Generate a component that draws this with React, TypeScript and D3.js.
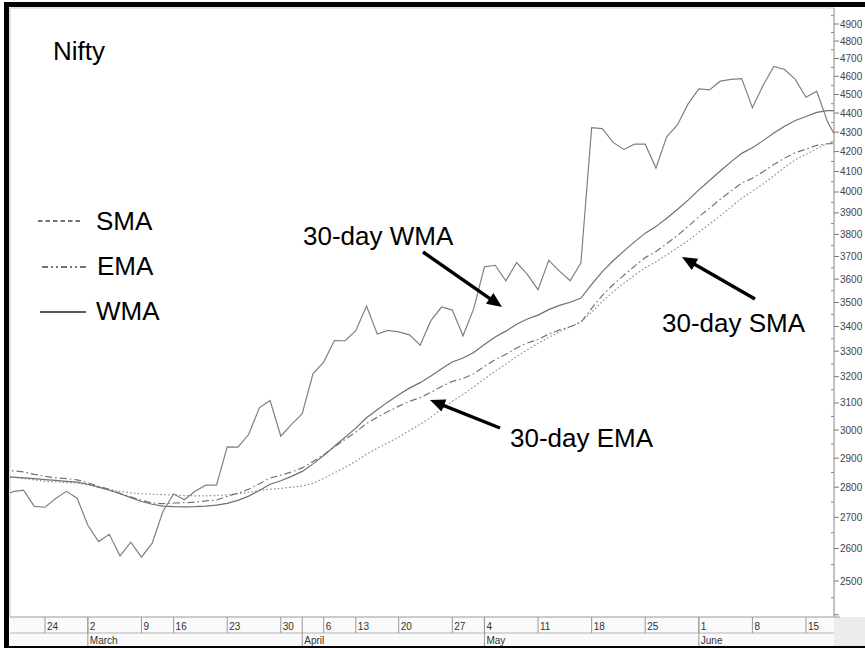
import React from 'react';
import * as d3 from 'd3';

// Trading days shown on the chart (Nifty, Feb–Jun 2009)
const dates = [
  '2009-02-17','2009-02-18','2009-02-19','2009-02-20','2009-02-24','2009-02-25','2009-02-26','2009-02-27',
  '2009-03-02','2009-03-03','2009-03-04','2009-03-05','2009-03-06','2009-03-09','2009-03-12','2009-03-13',
  '2009-03-16','2009-03-17','2009-03-18','2009-03-19','2009-03-20','2009-03-23','2009-03-24','2009-03-25',
  '2009-03-26','2009-03-27','2009-03-30','2009-03-31','2009-04-01','2009-04-02','2009-04-06','2009-04-08',
  '2009-04-09','2009-04-13','2009-04-15','2009-04-16','2009-04-17','2009-04-20','2009-04-21','2009-04-22',
  '2009-04-23','2009-04-24','2009-04-27','2009-04-28','2009-04-29','2009-05-04','2009-05-05','2009-05-06',
  '2009-05-07','2009-05-08','2009-05-11','2009-05-12','2009-05-13','2009-05-14','2009-05-15','2009-05-18',
  '2009-05-19','2009-05-20','2009-05-21','2009-05-22','2009-05-25','2009-05-26','2009-05-27','2009-05-28',
  '2009-05-29','2009-06-01','2009-06-02','2009-06-03','2009-06-04','2009-06-05','2009-06-08','2009-06-09',
  '2009-06-10','2009-06-11','2009-06-12','2009-06-15','2009-06-16','2009-06-17','2009-06-18'
];

const nifty = [
  2770,2785,2790,2736,2733,2762,2786,2763,2674,2622,2645,2577,2620,2573,2617,2719,
  2777,2758,2786,2807,2807,2940,2939,2984,3082,3109,2978,3021,3060,3211,3257,3343,
  3342,3383,3485,3369,3384,3378,3366,3324,3424,3481,3468,3362,3474,3654,3661,3593,
  3673,3621,3555,3683,3635,3593,3672,4323,4318,4247,4211,4238,4238,4117,4276,4337,
  4449,4530,4525,4573,4583,4587,4429,4551,4655,4638,4583,4485,4518,4356,4251
];

const sma30 = [
  2838,2834,2830,2825,2820,2818,2816,2814,2808,2800,2792,2786,2781,2778,2776,2775,
  2774,2772,2771,2771,2772,2774,2778,2783,2789,2793,2796,2800,2804,2813,2830,2849,
  2868,2889,2914,2935,2954,2975,2998,3021,3047,3078,3106,3132,3161,3192,3221,3249,
  3279,3306,3331,3356,3379,3399,3419,3459,3504,3545,3583,3617,3650,3676,3707,3739,
  3771,3810,3848,3887,3928,3970,4004,4039,4079,4121,4158,4186,4215,4240,4259
];

const ema30 = [
  2863,2856,2852,2844,2837,2832,2829,2825,2815,2803,2793,2779,2768,2756,2747,2745,
  2747,2748,2750,2754,2757,2769,2780,2793,2812,2831,2841,2852,2866,2888,2912,2940,
  2966,2993,3024,3047,3068,3088,3106,3120,3140,3162,3182,3193,3211,3240,3267,3288,
  3313,3333,3347,3369,3386,3399,3417,3475,3530,3576,3617,3657,3695,3722,3758,3795,
  3837,3882,3923,3965,4005,4043,4067,4099,4135,4167,4194,4213,4232,4240,4241
];

const wma30 = [
  2836,2834,2832,2829,2826,2823,2820,2817,2810,2800,2790,2778,2765,2752,2743,2737,
  2735,2734,2735,2737,2740,2746,2756,2770,2789,2810,2822,2837,2854,2880,2909,2942,
  2974,3007,3045,3075,3104,3131,3156,3177,3203,3231,3257,3273,3295,3327,3357,3381,
  3409,3431,3447,3470,3488,3501,3519,3577,3633,3681,3724,3766,3806,3836,3875,3916,
  3961,4010,4056,4103,4148,4191,4220,4256,4295,4331,4361,4382,4404,4413,4414
];

const yMajorTicks = [2400,2500,2600,2700,2800,2900,3000,3100,3200,3300,3400,3500,3600,3700,3800,3900,4000,4100,4200,4300,4400,4500,4600,4700,4800,4900];
const yLabelTicks = [2500,2600,2700,2800,2900,3000,3100,3200,3300,3400,3500,3600,3700,3800,3900,4000,4100,4200,4300,4400,4500,4600,4700,4800,4900];
const yMinorTicks = [2450,2550,2650,2750,2850,2950,3050,3150,3250,3350,3450,3550,3650,3750,3850,3950,4050,4150,4250,4350,4450,4550,4650,4750,4850,4950];

const weekTicks = ['2009-02-24','2009-03-02','2009-03-09','2009-03-16','2009-03-23','2009-03-30','2009-04-06','2009-04-13','2009-04-20','2009-04-27','2009-05-04','2009-05-11','2009-05-18','2009-05-25','2009-06-01','2009-06-08','2009-06-15'];
const weekLabels = ['24','2','9','16','23','30','6','13','20','27','4','11','18','25','1','8','15'];
const monthStarts = ['2009-03-02','2009-04-01','2009-05-04','2009-06-01'];
const monthLabels = ['March','April','May','June'];

const FONT = '"Liberation Sans", Arial, Helvetica, sans-serif';

function Arrow({ x1, y1, x2, y2 }: { x1: number; y1: number; x2: number; y2: number }) {
  const a = Math.atan2(y2 - y1, x2 - x1);
  const L = 15, hw = 6.5;
  const bx = x2 - L * Math.cos(a), by = y2 - L * Math.sin(a);
  const p1 = [bx - hw * Math.sin(a), by + hw * Math.cos(a)];
  const p2 = [bx + hw * Math.sin(a), by - hw * Math.cos(a)];
  return (
    <g>
      <line x1={x1} y1={y1} x2={bx + 2 * Math.cos(a)} y2={by + 2 * Math.sin(a)} stroke="#000" strokeWidth={3.4} />
      <polygon points={`${x2},${y2} ${p1[0]},${p1[1]} ${p2[0]},${p2[1]}`} fill="#000" />
    </g>
  );
}

export default function App() {
  const W = 865, H = 648;
  const P = { left: 10, right: 834, top: 8, bottom: 617 };
  const ix = (d: string) => dates.indexOf(d);
  const x = d3.scaleLinear().domain([ix('2009-02-24'), ix('2009-06-15')]).range([45, 806]);
  const y = d3.scaleLog().domain([2500, 4900]).range([581, 24]);
  const mk = (vals: number[]) =>
    d3.line<number>().x((_, i) => x(i)).y((v) => y(v))(vals) || '';

  return (
    <svg width={W} height={H} style={{ position: 'absolute', left: 0, top: 0, background: '#fff' }} fontFamily={FONT}>
      <defs>
        <clipPath id="plotclip">
          <rect x={P.left} y={P.top} width={P.right - P.left} height={P.bottom - P.top} />
        </clipPath>
      </defs>
      <rect x={0} y={0} width={W} height={H} fill="#fff" />

      {/* plot frame */}
      <line x1={P.left} y1={P.top} x2={P.right} y2={P.top} stroke="#c8c8c8" />
      <line x1={P.left} y1={P.top} x2={P.left} y2={P.bottom} stroke="#c8c8c8" />

      {/* series */}
      <g clipPath="url(#plotclip)" fill="none">
        <path d={mk(sma30)} stroke="#909090" strokeWidth={1.2} strokeDasharray="1.6,2.2" />
        <path d={mk(ema30)} stroke="#747474" strokeWidth={1.2} strokeDasharray="7,3,1.6,3" />
        <path d={mk(wma30)} stroke="#707070" strokeWidth={1.2} />
        <path d={mk(nifty)} stroke="#808080" strokeWidth={1.2} />
      </g>

      {/* right axis */}
      <line x1={P.right} y1={P.top} x2={P.right} y2={P.bottom} stroke="#888" />
      {yMajorTicks.map((t) => (
        <line key={'M' + t} x1={P.right} x2={P.right + 5} y1={y(t)} y2={y(t)} stroke="#777" />
      ))}
      {yMinorTicks.map((t) => (
        <line key={'m' + t} x1={P.right - 3} x2={P.right} y1={y(t)} y2={y(t)} stroke="#888" />
      ))}
      {yLabelTicks.map((t) => (
        <text key={'L' + t} x={P.right + 6} y={y(t)} dy="0.35em" fontSize={10} fill="#444">
          {t}
        </text>
      ))}

      {/* date band */}
      <rect x={P.left} y={P.bottom} width={P.right - P.left} height={H - P.bottom} fill="#fafafa" />
      <rect x={P.right} y={P.bottom} width={W - P.right} height={H - P.bottom} fill="#ececec" />
      <line x1={P.left} x2={P.right + 6} y1={P.bottom} y2={P.bottom} stroke="#999" />
      <line x1={P.left} x2={P.right} y1={633} y2={633} stroke="#b4b4b4" />
      {weekTicks.map((d, i) => (
        <g key={'w' + d}>
          <line x1={x(ix(d))} x2={x(ix(d))} y1={P.bottom} y2={633} stroke="#999" />
          <text x={x(ix(d)) + 2} y={630} fontSize={10} fill="#333">{weekLabels[i]}</text>
        </g>
      ))}
      {monthStarts.map((d, i) => (
        <g key={'mo' + d}>
          <line x1={x(ix(d))} x2={x(ix(d))} y1={P.bottom} y2={H} stroke="#999" />
          <text x={x(ix(d)) + 2} y={643.5} fontSize={10} fill="#333">{monthLabels[i]}</text>
        </g>
      ))}

      {/* outer black frame */}
      <rect x={4} y={2} width={W - 4} height={5} fill="#000" />
      <rect x={4} y={2} width={5} height={H - 2} fill="#000" />
      <rect x={4} y={646} width={W - 4} height={2} fill="#000" />

      {/* title */}
      <text x={53} y={60} fontSize={26} fill="#000">Nifty</text>

      {/* legend */}
      <line x1={38} x2={83} y1={221} y2={221} stroke="#444" strokeWidth={1.3} strokeDasharray="4.5,3" />
      <text x={96} y={229.5} fontSize={26} fill="#000">SMA</text>
      <line x1={42} x2={87} y1={267} y2={267} stroke="#444" strokeWidth={1.3} strokeDasharray="6,3,2,3,2,3" />
      <text x={97} y={274.5} fontSize={26} fill="#000">EMA</text>
      <line x1={40} x2={86} y1={312} y2={312} stroke="#222" strokeWidth={1.4} />
      <text x={96} y={320} fontSize={26} fill="#000">WMA</text>

      {/* annotations */}
      <text x={303} y={245} fontSize={26} fill="#000">30-day WMA</text>
      <Arrow x1={423} y1={252} x2={502} y2={307} />
      <text x={510} y={447} fontSize={26} fill="#000">30-day EMA</text>
      <Arrow x1={500} y1={428} x2={430} y2={400} />
      <text x={662} y={332} fontSize={26} fill="#000">30-day SMA</text>
      <Arrow x1={755} y1={299} x2={682} y2={257} />
    </svg>
  );
}
